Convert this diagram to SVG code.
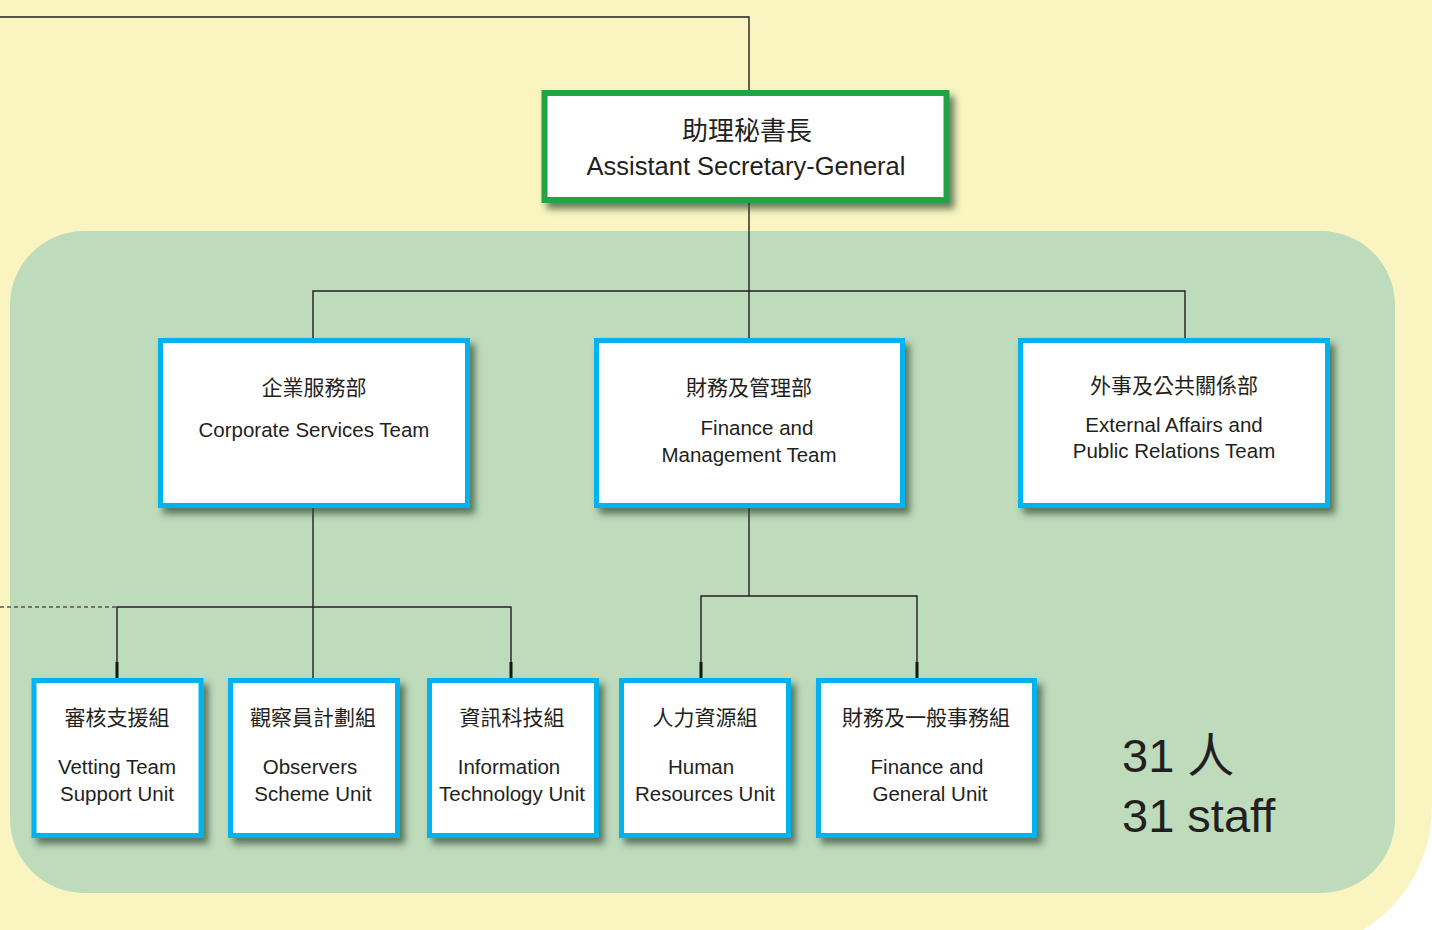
<svg xmlns="http://www.w3.org/2000/svg" width="1432" height="930" viewBox="0 0 1432 930">
<defs>
<style>
.cn{font-family:"Noto Sans CJK TC","Noto Sans CJK SC",sans-serif;fill:#231f20;text-anchor:middle;font-size:21px}
.en{font-family:"Liberation Sans",Arial,sans-serif;fill:#231f20;text-anchor:middle;font-size:20.5px}
.ln{fill:none;stroke:#231f20;stroke-width:1.4}
.tk{fill:none;stroke:#0d1a0d;stroke-width:3}
.box{fill:#fff;stroke:#00b2ef;stroke-width:5}
</style>
<filter id="sh" x="-10%" y="-10%" width="130%" height="130%">
<feDropShadow dx="5" dy="6" stdDeviation="3.5" flood-color="#2e4a30" flood-opacity="0.7"/>
</filter>
</defs>
<rect width="1432" height="930" fill="#ffffff"/>
<path d="M0 0 H1432 V807 A144 144 0 0 1 1288 951 H0 Z" fill="#faf5c0"/>
<rect x="10" y="231" width="1385" height="662" rx="74" ry="74" fill="#bedbbc"/>
<g id="connectors">
<path class="ln" d="M0 17 H749 V92"/>
<path class="ln" d="M749 203 V340"/>
<path class="ln" d="M313 340 V291 H1185 V340"/>
<path class="ln" d="M313 508 V680"/>
<path class="ln" d="M117 680 V607 H511 V680"/>
<path fill="none" stroke="#555" stroke-width="1.4" stroke-dasharray="4,3" d="M0 607 H117"/>
<path class="ln" d="M749 508 V596"/>
<path class="ln" d="M701 680 V596 H917 V680"/>
<path class="tk" d="M117 662 V680 M701 662 V680 M917 662 V680 M511 662 V680"/>
</g>
<g id="asg" filter="url(#sh)">
<rect x="544.5" y="93" width="402" height="107" fill="#fff" stroke="#22a345" stroke-width="6"/>
</g>
<g id="asg-text">
<text class="cn" x="747" y="140" style="font-size:26px">助理秘書長</text>
<text class="en" x="746" y="175" style="font-size:25.5px">Assistant Secretary-General</text>
</g>
<g id="corporate">
<rect class="box" x="160.5" y="340.5" width="307" height="165" filter="url(#sh)"/>
<text class="cn" x="314" y="395">企業服務部</text>
<text class="en" x="314" y="437">Corporate Services Team</text>
</g>
<g id="finance">
<rect class="box" x="596.5" y="340.5" width="306" height="165" filter="url(#sh)"/>
<text class="cn" x="749" y="395">財務及管理部</text>
<text class="en" x="757" y="435">Finance and</text>
<text class="en" x="749" y="462">Management Team</text>
</g>
<g id="external">
<rect class="box" x="1020.5" y="340.5" width="307" height="165" filter="url(#sh)"/>
<text class="cn" x="1174" y="393">外事及公共關係部</text>
<text class="en" x="1174" y="432">External Affairs and</text>
<text class="en" x="1174" y="458">Public Relations Team</text>
</g>
<g id="vetting">
<rect class="box" x="34" y="680.5" width="167" height="155" filter="url(#sh)"/>
<text class="cn" x="117" y="725">審核支援組</text>
<text class="en" x="117" y="774">Vetting Team</text>
<text class="en" x="117" y="801">Support Unit</text>
</g>
<g id="observers">
<rect class="box" x="230.5" y="680.5" width="167" height="155" filter="url(#sh)"/>
<text class="cn" x="313" y="725">觀察員計劃組</text>
<text class="en" x="310" y="774">Observers</text>
<text class="en" x="313" y="801">Scheme Unit</text>
</g>
<g id="it">
<rect class="box" x="429.5" y="680.5" width="167" height="155" filter="url(#sh)"/>
<text class="cn" x="512" y="725">資訊科技組</text>
<text class="en" x="509" y="774">Information</text>
<text class="en" x="512" y="801">Technology Unit</text>
</g>
<g id="hr">
<rect class="box" x="621.5" y="680.5" width="167" height="155" filter="url(#sh)"/>
<text class="cn" x="705" y="725">人力資源組</text>
<text class="en" x="701" y="774">Human</text>
<text class="en" x="705" y="801">Resources Unit</text>
</g>
<g id="fin-general">
<rect class="box" x="818.5" y="680.5" width="216" height="155" filter="url(#sh)"/>
<text class="cn" x="926" y="725">財務及一般事務組</text>
<text class="en" x="927" y="774">Finance and</text>
<text class="en" x="930" y="801">General Unit</text>
</g>
<g id="staff">
<text x="1122" y="772" font-size="47" fill="#231f20" font-family="Liberation Sans, Noto Sans CJK TC, sans-serif">31 人</text>
<text x="1122" y="832" font-size="47" fill="#231f20" font-family="Liberation Sans, sans-serif">31 staff</text>
</g>
</svg>
